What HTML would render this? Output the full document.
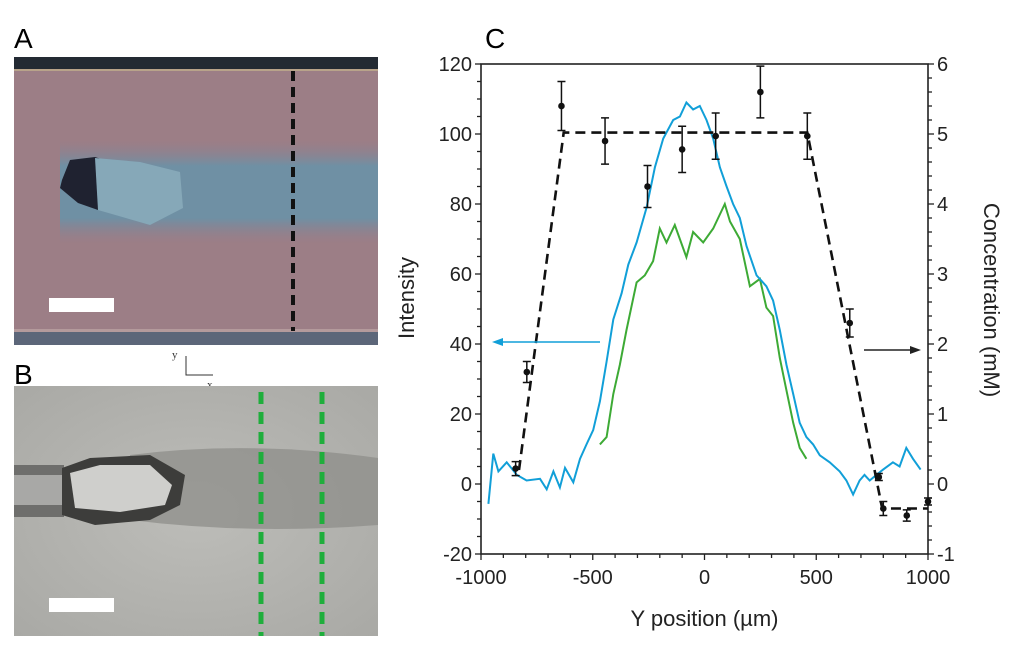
<!DOCTYPE html>
<html><head><meta charset="utf-8"><style>
body{margin:0;background:#fff;width:1024px;height:649px;overflow:hidden;font-family:"Liberation Sans",sans-serif}
svg{position:absolute;left:0;top:0}
</style></head><body>
<svg width="1024" height="649" viewBox="0 0 1024 649">
<defs>
<linearGradient id="blueband" x1="0" y1="0" x2="0" y2="1">
<stop offset="0" stop-color="#8e8090" stop-opacity="0"/><stop offset="0.25" stop-color="#6f90a4"/><stop offset="0.75" stop-color="#6f90a4"/><stop offset="1" stop-color="#8e8090" stop-opacity="0"/></linearGradient>
<radialGradient id="graytex" cx="0.5" cy="0.5" r="0.7"><stop offset="0" stop-color="#bdbdb9"/><stop offset="1" stop-color="#a9a9a5"/></radialGradient>
</defs>
<text x="14" y="48" font-size="28">A</text>
<g>
<rect x="14" y="57" width="364" height="288" fill="#9c7e86"/>
<rect x="14" y="57" width="364" height="13" fill="#232a33"/>
<rect x="14" y="69" width="364" height="2" fill="#b8a38a"/>
<rect x="14" y="331" width="364" height="14" fill="#5c6679"/>
<rect x="14" y="329" width="364" height="3" fill="#b49a9c"/>
<rect x="60" y="140" width="318" height="104" fill="url(#blueband)"/>
<path d="M62,180 L70,160 L95,157 L110,162 L98,210 L78,203 L60,188 Z" fill="#1f2230"/>
<path d="M95,158 L140,162 L180,172 L183,208 L150,225 L98,210 Z" fill="#86a8b8"/>
<line x1="293" y1="71" x2="293" y2="331" stroke="#111" stroke-width="4" stroke-dasharray="10,6"/>
<rect x="49" y="298" width="65" height="14" fill="#fff"/>
</g>
<g stroke="#333" stroke-width="1" fill="none">
<path d="M186,356 L186,375 L213,375"/>
</g>
<text x="172" y="358" font-size="11" font-family="Liberation Serif" fill="#333">y</text>
<text x="207" y="388" font-size="11" font-family="Liberation Serif" fill="#333">x</text>
<text x="14" y="384" font-size="28">B</text>
<g>
<rect x="14" y="386" width="364" height="250" fill="url(#graytex)"/>
<path d="M130,455 Q250,440 378,458 L378,525 Q250,535 130,520 Z" fill="#8d8d8a" opacity="0.75"/>
<rect x="14" y="465" width="50" height="52" fill="#6e6e6c"/>
<rect x="14" y="475" width="50" height="30" fill="#a8a8a6"/>
<path d="M62,468 L90,458 L150,455 L185,475 L180,505 L150,520 L95,525 L62,515 Z" fill="#3d3d3b"/>
<path d="M70,473 L100,465 L150,465 L172,485 L165,505 L120,512 L75,508 Z" fill="#cfcfcc"/>
<line x1="261" y1="392" x2="261" y2="636" stroke="#1fae3c" stroke-width="5" stroke-dasharray="12,8"/>
<line x1="322" y1="392" x2="322" y2="636" stroke="#1fae3c" stroke-width="5" stroke-dasharray="12,8"/>
<rect x="49" y="598" width="65" height="14" fill="#fff"/>
</g>
<text x="485" y="48" font-size="28">C</text>
<g id="chart"></g>
</svg>
<script>
var blueX=[-967,-945,-922,-885,-840,-796,-736,-706,-676,-647,-624,-587,-557,-528,-498,-468,-438,-408,-371,-341,-304,-259,-222,-185,-140,-110,-81,-51,-21,9,39,69,99,128,158,188,233,277,307,337,367,397,426,456,486,516,560,605,635,665,694,716,739,769,799,843,873,903,933,967,993,1022];
var blueY=[-5.7,8.7,3.6,6.2,2.6,1,1.5,-1.5,3.6,-1,4.6,0.5,7.2,11.3,15.4,23.6,35,47,54.5,62.7,69,79,90.5,98.7,104,105,109,107,108,104,98.7,90.5,85,80,76,68,59.6,56.5,52.4,44,34,25.7,17.5,13.4,11.3,8.2,6.2,3.6,1,-3,1,2.6,1,2.6,4.1,6.2,5,10.3,7.2,4.1];
var greenX=[-468,-438,-408,-379,-349,-304,-267,-230,-200,-170,-133,-81,-51,-6,39,91,114,158,203,248,277,307,337,367,397,426,456];
var greenY=[11.3,13.4,25.7,34,44,57.6,59.6,63.7,73,69,74,64.8,72,69,73,80,75,70,56.5,58.6,50.4,48,36,26.7,17.5,10.3,7.2];
var concX=[-845,-795,-640,-445,-255,-100,50,250,460,650,780,800,905,1000];
var concY=[0.22,1.6,5.4,4.9,4.25,4.78,4.97,5.6,4.97,2.3,0.1,-0.35,-0.45,-0.25];
var concErr=[0.1,0.15,0.35,0.33,0.3,0.33,0.33,0.37,0.33,0.2,0.05,0.1,0.08,0.05];
var fitX=[-830,-630,460,795,1000];
var fitY=[0.2,5.02,5.02,-0.35,-0.35];
var xTicks=[-1000,-500,0,500,1000];
var yTicks=[-20,0,20,40,60,80,100,120];
var y2Ticks=[-1,0,1,2,3,4,5,6];

var L=481,R=928,T=64,B=554;
function sx(v){return L+(v+1000)/2000*(R-L);}
function sy(v){return B-(v+20)/140*(B-T);}
function sy2(c){return sy(c*20);}
var NS='http://www.w3.org/2000/svg';
var g=document.getElementById('chart');
function mk(tag,at,parent){var e=document.createElementNS(NS,tag);for(var k in at)e.setAttribute(k,at[k]);(parent||g).appendChild(e);return e;}

var frame=mk('rect',{x:L,y:T,width:R-L,height:B-T,fill:'none',stroke:'#222','stroke-width':1.6});



for(var v=-1000;v<=1000;v+=100){var maj=(v%500===0);var t=mk('line',{x1:sx(v),x2:sx(v),y1:B,y2:B+(maj?6:4),stroke:'#222','stroke-width':1.3});

}
for(var v=-20;v<=120;v+=5){var maj=(v%20===0);var t=mk('line',{x1:L-(maj?6:4),x2:L,y1:sy(v),y2:sy(v),stroke:'#222','stroke-width':1.3});

}
for(var c=-1;c<=6.001;c+=0.2){var maj=Math.abs(c-Math.round(c))<0.01;var t=mk('line',{x1:R,x2:R+(maj?6:4),y1:sy2(c),y2:sy2(c),stroke:'#222','stroke-width':1.3});

}
xTicks.forEach(function(v){var t=mk('text',{x:sx(v),y:B+30,'font-size':20,'text-anchor':'middle',fill:'#222'});t.textContent=v;

});
yTicks.forEach(function(v){var t=mk('text',{x:L-9,y:sy(v)+7,'font-size':20,'text-anchor':'end',fill:'#222'});t.textContent=v;

});
y2Ticks.forEach(function(v){var t=mk('text',{x:R+9,y:sy2(v)+7,'font-size':20,'text-anchor':'start',fill:'#222'});t.textContent=v;

});

var xt=mk('text',{x:(L+R)/2,y:626,'font-size':22,'text-anchor':'middle',fill:'#222'});xt.textContent='Y position (\u00b5m)';


var yt=mk('text',{x:0,y:0,'font-size':22,'text-anchor':'middle',fill:'#222',transform:'translate(414,298) rotate(-90)'});yt.textContent='Intensity';


var y2t=mk('text',{x:0,y:0,'font-size':22,'text-anchor':'middle',fill:'#222',transform:'translate(984,300) rotate(90)'});y2t.textContent='Concentration (mM)';



function pts(xs,ys,f){return xs.map(function(x,i){return sx(x).toFixed(1)+','+f(ys[i]).toFixed(1);}).join(' ');}
var gl=mk('polyline',{points:pts(greenX,greenY,sy),fill:'none',stroke:'#3daa35','stroke-width':2});


var bl=mk('polyline',{points:pts(blueX,blueY,sy),fill:'none',stroke:'#119fd8','stroke-width':2});


var fl=mk('polyline',{points:pts(fitX,fitY,sy2),fill:'none',stroke:'#111','stroke-width':2.6,'stroke-dasharray':'10,6'});



concX.forEach(function(x,i){
  var cx=sx(x),cy=sy2(concY[i]),e1=sy2(concY[i]+concErr[i]),e2=sy2(concY[i]-concErr[i]);
  var eb=mk('path',{d:'M'+cx+','+e1+'V'+e2+'M'+(cx-4)+','+e1+'h8M'+(cx-4)+','+e2+'h8',stroke:'#111','stroke-width':1.5,fill:'none'});
  
  
  var p=mk('circle',{cx:cx,cy:cy,r:3.3,fill:'#111'});
  
  
});

var a1=mk('path',{d:'M600,342 H500',stroke:'#119fd8','stroke-width':1.6,fill:'none'});


var a1h=mk('path',{d:'M492,342 L503,338 L503,346 Z',fill:'#119fd8'});


var a2=mk('path',{d:'M864,350 H912',stroke:'#222','stroke-width':1.4,fill:'none'});


var a2h=mk('path',{d:'M921,350 L910,346 L910,354 Z',fill:'#222'});


</script>
</body></html>
